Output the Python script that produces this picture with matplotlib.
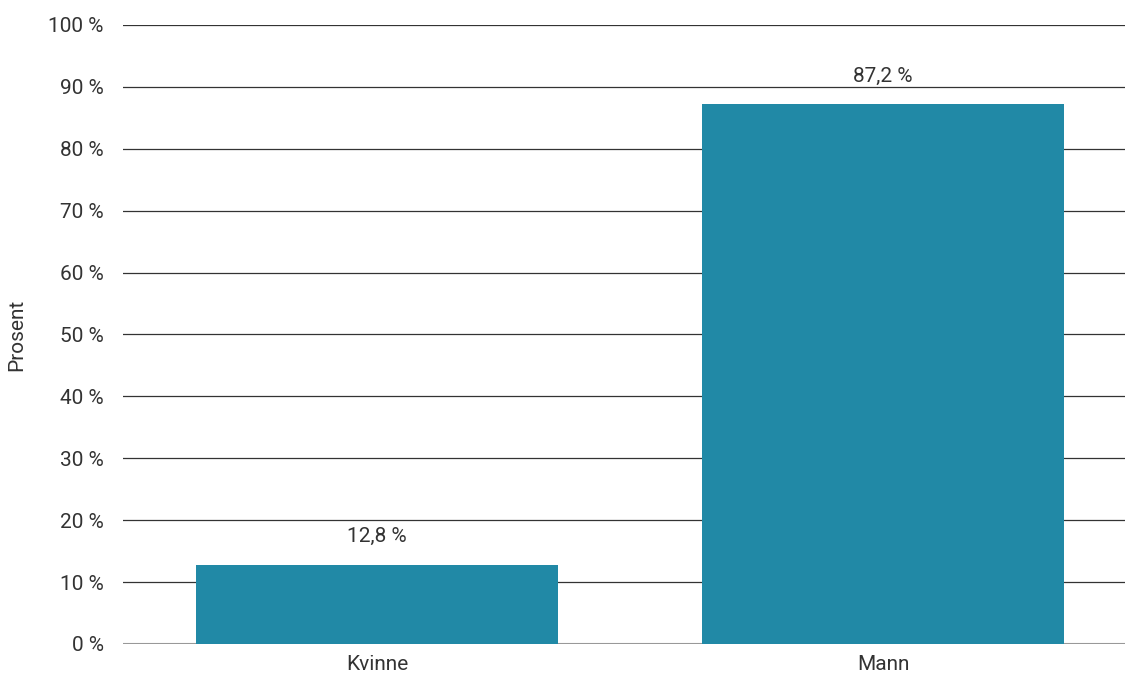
import matplotlib.pyplot as plt
import numpy as np

# Data
categories = ["Kvinne", "Mann"]
values = [12.8, 87.2]
yticks = list(range(0, 101, 10))

plt.rcParams["font.family"] = ["Roboto", "DejaVu Sans"]

fig = plt.figure(figsize=(11.25, 6.75), dpi=100)
ax = fig.add_axes([0.1093, 0.046, 0.8907, 0.917])

x = np.arange(len(categories))
bars = ax.bar(x, values, width=0.715, color="#2189A6", zorder=3)

for b, v in zip(bars, values):
    ax.text(b.get_x() + b.get_width() / 2, v + 3.0, f"{v:.1f} %".replace(".", ","),
            ha="center", va="bottom", fontsize=15, color="#333333")

ax.set_ylim(0, 100)
ax.set_xlim(-0.502, 1.478)
ax.set_yticks(yticks)
ax.set_yticklabels([f"{t} %" for t in yticks])
ax.set_xticks(x)
ax.set_xticklabels(categories)
ax.tick_params(axis="both", length=0, labelsize=15, colors="#333333", pad=14)
ax.tick_params(axis="x", pad=8)

ax.grid(axis="y", color="#333333", linewidth=0.9, zorder=0)
ax.set_axisbelow(True)
for s in ax.spines.values():
    s.set_visible(False)
ax.axhline(0, color="#999999", linewidth=1.5, zorder=2)

ax.set_ylabel("Prosent", fontsize=15, color="#333333", labelpad=16)

plt.savefig("out.png", dpi=100)
